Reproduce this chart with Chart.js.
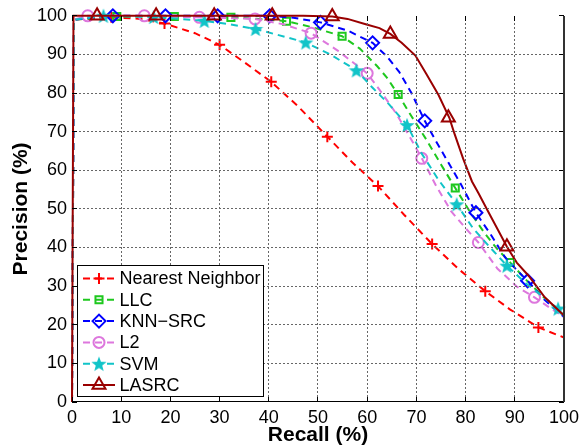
<!DOCTYPE html>
<html>
<head>
<meta charset="utf-8">
<script src="https://cdn.jsdelivr.net/npm/chart.js@4.4.1/dist/chart.umd.min.js"></script>
<style>
  html, body { margin: 0; padding: 0; background: #fff; }
  #wrap { width: 584px; height: 446px; position: relative; }
</style>
</head>
<body>
<div id="wrap"><canvas id="prChart" width="584" height="446"></canvas></div>
<script>
// --- 1. DATA ---
const seriesNames = ['Nearest Neighbor', 'LLC', 'KNN\u2212SRC', 'L2', 'SVM', 'LASRC'];
const axisTicks = [0, 10, 20, 30, 40, 50, 60, 70, 80, 90, 100];

// Nearest Neighbor
const nnX = [0, 0.4, 8, 14, 18.8, 25, 30, 35, 40.5, 46, 51.9, 57, 62.2, 67.5, 73.2, 78.5, 84, 89, 94.8, 100];
const nnY = [0, 99, 99.6, 99.2, 98, 95.5, 92.5, 88, 82.9, 76.5, 68.7, 62, 55.9, 48.5, 40.9, 34.5, 28.7, 24, 19.3, 16.7];
const nnMarkX = [8, 18.8, 30, 40.5, 51.9, 62.2, 73.2, 84, 94.8];
const nnMarkY = [99.6, 98, 92.5, 82.9, 68.7, 55.9, 40.9, 28.7, 19.3];

// LLC
const llcX = [0, 0.4, 9.1, 20.8, 32.3, 38, 43.6, 49, 54.9, 58.5, 62, 64, 66.3, 69, 72, 75, 77.9, 81, 84, 86.5, 89.1, 92, 96, 100];
const llcY = [0, 99, 99.8, 99.8, 99.6, 99.2, 98.6, 97, 94.7, 91.5, 87, 84, 79.6, 74, 68, 61.5, 55.4, 49, 43.5, 39.5, 36.1, 32, 27, 22.5];
const llcMarkX = [9.1, 20.8, 32.3, 43.6, 54.9, 66.3, 77.9, 89.1];
const llcMarkY = [99.8, 99.8, 99.6, 98.6, 94.7, 79.6, 55.4, 36.1];

// KNN-SRC
const knnX = [0, 0.4, 8.3, 19, 29.6, 40.2, 45, 50.5, 56, 61.1, 64, 66.5, 69, 71.7, 74, 76.5, 79, 82.1, 85.3, 88, 90.5, 92.6, 96, 100];
const knnY = [0, 99, 100, 100, 100, 100, 99.5, 98.3, 96.2, 93, 89.5, 85.5, 80, 72.8, 67.5, 62, 56.5, 49, 43, 37.5, 34, 31.4, 26.5, 22];
const knnMarkX = [8.3, 19, 29.6, 40.2, 50.5, 61.1, 71.7, 82.1, 92.6];
const knnMarkY = [100, 100, 100, 100, 98.3, 93, 72.8, 49, 31.4];

// L2
const l2X = [0, 0.4, 3.2, 14.7, 25.9, 37.2, 43, 48.6, 54, 60, 63, 66, 68.5, 71.1, 74, 77, 80, 82.6, 86.5, 90.5, 94, 97, 100];
const l2Y = [0, 99, 100, 100, 99.6, 99.2, 97.8, 95.5, 91, 85.1, 80, 74.5, 69, 63.1, 56, 49.5, 45, 41.3, 34.5, 29.8, 27.1, 24.5, 22];
const l2MarkX = [3.2, 14.7, 25.9, 37.2, 48.6, 60, 71.1, 82.6, 94];
const l2MarkY = [100, 100, 99.6, 99.2, 95.5, 85.1, 63.1, 41.3, 27.1];

// SVM
const svmX = [0, 0.4, 6.4, 16.6, 26.9, 32, 37.3, 42, 47.5, 52.5, 57.8, 61, 64.5, 68.1, 71, 74.5, 78.2, 81.5, 85, 88.4, 92, 95.5, 98.8, 100];
const svmY = [0, 99, 100, 99.7, 98.7, 97.8, 96.6, 95, 93.1, 90, 85.9, 81.5, 77, 71.7, 64.5, 57.5, 51.2, 45, 40, 35.3, 31, 27.5, 24.2, 23.2];
const svmMarkX = [6.4, 16.6, 26.9, 37.3, 47.5, 57.8, 68.1, 78.2, 88.4, 98.8];
const svmMarkY = [100, 99.7, 98.7, 96.6, 93.1, 85.9, 71.7, 51.2, 35.3, 24.2];

// LASRC
const lasX = [0, 0.3, 5.1, 17.1, 28.9, 40.7, 47, 52.9, 56, 59.7, 62.5, 64.7, 67, 69.8, 72, 74.5, 76.7, 77.6, 79.5, 81.3, 82.6, 84.5, 86.7, 88.4, 90.4, 92.8, 96.1, 100];
const lasY = [0, 100, 100, 100, 100, 100, 100, 99.8, 99.2, 97.8, 96.8, 95.3, 93, 89.7, 85, 79.5, 73.6, 70, 63, 57.1, 54.1, 49.5, 44.3, 40.2, 36.1, 32.7, 27.1, 22.4];
const lasMarkX = [5.1, 17.1, 28.9, 40.7, 52.9, 64.7, 76.5, 88.4];
const lasMarkY = [100, 100, 100, 100, 99.8, 95.3, 73.6, 40.2];

// --- 2. STYLE ---
const FONT = '"Liberation Sans", Arial, Helvetica, sans-serif';

// filled five-pointed star (MATLAB pentagram) as a canvas point style
function makeStar(color, size) {
    const c = document.createElement('canvas');
    c.width = size; c.height = size;
    const g = c.getContext('2d');
    const cx = size / 2, cy = size / 2 + 0.8, R = size / 2, r = R * 0.42;
    g.beginPath();
    for (let k = 0; k < 10; k++) {
        const rad = k % 2 === 0 ? R : r;
        const a = -Math.PI / 2 + k * Math.PI / 5;
        g.lineTo(cx + rad * Math.cos(a), cy + rad * Math.sin(a));
    }
    g.closePath();
    g.fillStyle = color;
    g.fill();
    return c;
}

const styles = [
    { color: '#ff0000', dash: [7, 5], point: 'cross',    radius: 5.5 },
    { color: '#1ec81e', dash: [7, 5], point: 'rect',     radius: 5 },
    { color: '#0000ff', dash: [7, 5], point: 'rectRot',  radius: 6.5 },
    { color: '#dd77dd', dash: [7, 5], point: 'circle',   radius: 5.5 },
    { color: '#11c4c8', dash: [7, 5], point: makeStar('#11c4c8', 16), radius: 8 },
    { color: '#990000', dash: [],     point: 'triangle', radius: 7.5 }
];

const curves = [[nnX, nnY], [llcX, llcY], [knnX, knnY], [l2X, l2Y], [svmX, svmY], [lasX, lasY]];
const marks = [[nnMarkX, nnMarkY], [llcMarkX, llcMarkY], [knnMarkX, knnMarkY], [l2MarkX, l2MarkY], [svmMarkX, svmMarkY], [lasMarkX, lasMarkY]];

const toPts = (xs, ys) => xs.map((x, i) => ({ x: x, y: ys[i] }));

const datasets = [];
seriesNames.forEach((name, i) => {
    const s = styles[i];
    datasets.push({
        label: name,
        data: toPts(curves[i][0], curves[i][1]),
        showLine: true,
        borderColor: s.color,
        borderWidth: 2,
        borderDash: s.dash,
        pointRadius: 0,
        tension: 0,
        fill: false,
        clip: false,
        order: 20 - 2 * i
    });
    datasets.push({
        label: name + ' markers',
        data: toPts(marks[i][0], marks[i][1]),
        showLine: false,
        pointStyle: s.point,
        pointRadius: s.radius,
        pointBorderWidth: 2,
        pointBorderColor: s.color,
        pointBackgroundColor: 'rgba(0,0,0,0)',
        clip: false,
        order: 19 - 2 * i
    });
});

// --- 3. PLUGIN: MATLAB grid, frame, ticks and legend ---
function drawAxesBox(chart) {
    const ctx = chart.ctx;
    const a = chart.chartArea;
    const sx = chart.scales.x, sy = chart.scales.y;
    const L = Math.round(a.left), R = Math.round(a.right), T = Math.round(a.top), B = Math.round(a.bottom);
    ctx.save();
    axisTicks.forEach(t => {
        const px = Math.floor(sx.getPixelForValue(t));
        const py = Math.floor(sy.getPixelForValue(t));
        // dotted grid
        if (t > 0 && t < 100) {
            ctx.fillStyle = '#666';
            for (let y = B - 3; y > T; y -= 4) ctx.fillRect(px, y, 1, 2);
            for (let x = L + 3; x < R; x += 4) ctx.fillRect(x, py, 2, 1);
        }
        // inward ticks
        ctx.fillStyle = '#000';
        ctx.fillRect(px, B - 5, 1, 5);
        ctx.fillRect(px, T, 1, 5);
        ctx.fillRect(L, py, 5, 1);
        ctx.fillRect(R - 5, py, 5, 1);
    });
    // frame
    ctx.fillStyle = '#000';
    ctx.fillRect(L, B - 1, R - L, 1);
    ctx.fillStyle = '#333';
    ctx.fillRect(R - 1, T, 2, B - T);
    ctx.restore();
}

function drawLegend(ctx) {
    const box = { x: 77.5, y: 265.5, w: 186, h: 131 };
    ctx.save();
    ctx.fillStyle = '#fff';
    ctx.fillRect(box.x, box.y, box.w, box.h);
    ctx.strokeStyle = '#000';
    ctx.lineWidth = 1;
    ctx.strokeRect(box.x, box.y, box.w, box.h);
    seriesNames.forEach((name, i) => {
        const s = styles[i];
        const y = 278.5 + i * 21.3;
        ctx.save();
        ctx.strokeStyle = s.color;
        ctx.lineWidth = 2;
        ctx.setLineDash(s.dash);
        ctx.beginPath();
        ctx.moveTo(83, y); ctx.lineTo(115, y);
        ctx.stroke();
        ctx.setLineDash([]);
        ctx.fillStyle = 'rgba(0,0,0,0)';
        Chart.helpers.drawPoint(ctx, { pointStyle: s.point, radius: s.radius, borderWidth: 2, rotation: 0 }, 99, y);
        ctx.restore();
        ctx.fillStyle = '#000';
        ctx.font = '18px ' + FONT;
        ctx.textBaseline = 'middle';
        ctx.textAlign = 'left';
        ctx.fillText(name, 119.5, y + 1);
    });
    ctx.restore();
}

const matlabLook = {
    id: 'matlabLook',
    afterDraw(chart) {
        drawAxesBox(chart);
        drawLegend(chart.ctx);
    }
};

// --- 4. CHART ---
new Chart(document.getElementById('prChart'), {
    type: 'scatter',
    data: { datasets: datasets },
    options: {
        responsive: false,
        animation: false,
        events: [],
        layout: { padding: { top: 12, right: 18, bottom: 0, left: 0 } },
        plugins: {
            legend: { display: false },
            tooltip: { enabled: false }
        },
        scales: {
            x: {
                type: 'linear',
                min: 0, max: 100,
                afterBuildTicks: scale => { scale.ticks = axisTicks.map(v => ({ value: v })); },
                afterFit: scale => { scale.height = 44; },
                ticks: { color: '#000', padding: 5, font: { family: FONT, size: 18 }, maxRotation: 0 },
                grid: { display: false, drawTicks: false },
                border: { display: false },
                title: {
                    display: true, text: 'Recall (%)', color: '#000',
                    font: { family: FONT, size: 21, weight: 'bold', lineHeight: 1 },
                    padding: { top: 0, bottom: 0 }
                }
            },
            y: {
                type: 'linear',
                min: 0, max: 100,
                afterBuildTicks: scale => { scale.ticks = axisTicks.map(v => ({ value: v })); },
                afterFit: scale => { scale.width = 72; },
                ticks: { color: '#000', padding: 5, font: { family: FONT, size: 18 } },
                grid: { display: false, drawTicks: false },
                border: { display: false },
                title: {
                    display: true, text: 'Precision (%)', color: '#000',
                    font: { family: FONT, size: 21, weight: 'bold', lineHeight: 1 },
                    padding: { top: 11, bottom: 0 }
                }
            }
        }
    },
    plugins: [matlabLook]
});
</script>
</body>
</html>
